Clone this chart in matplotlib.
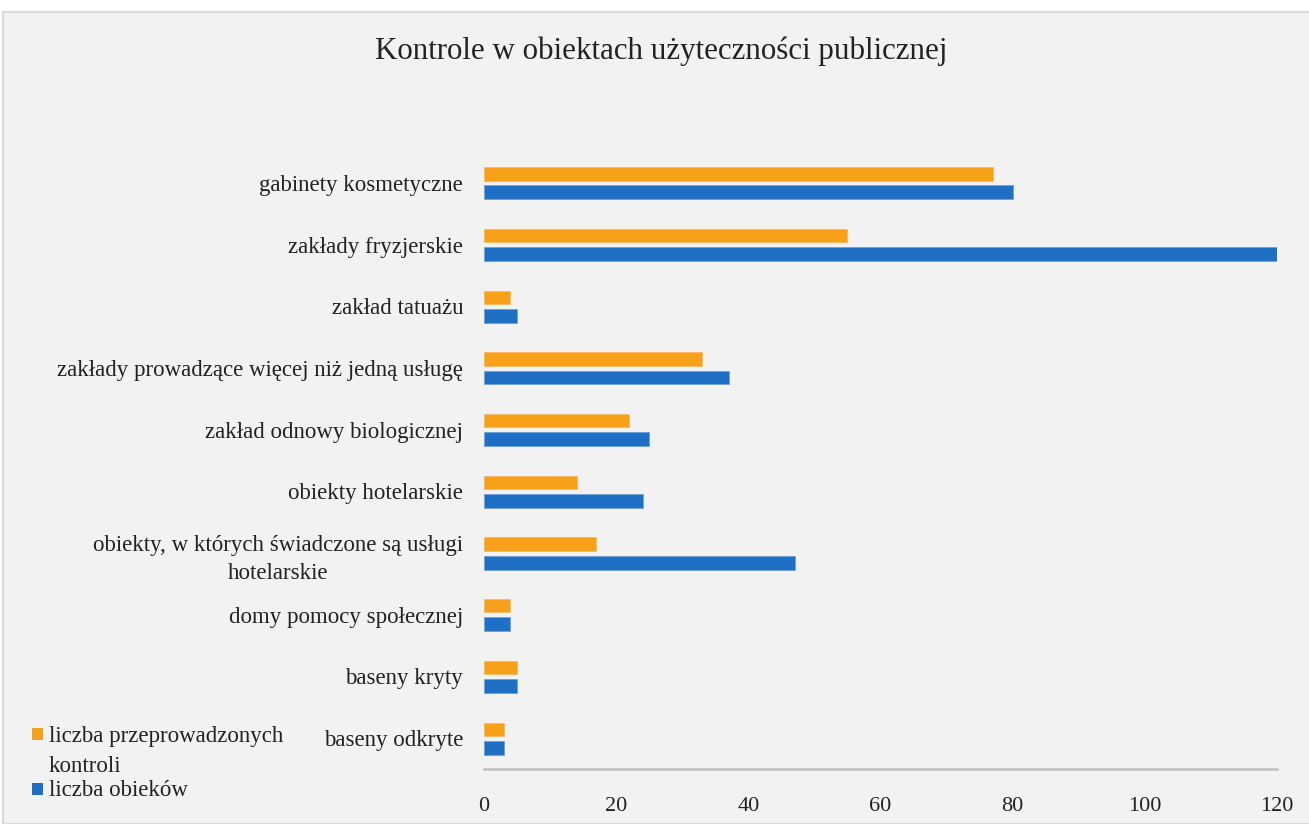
import matplotlib.pyplot as plt
import numpy as np
from matplotlib.patches import Rectangle

# data
categories = [
    "gabinety kosmetyczne",
    "zakłady fryzjerskie",
    "zakład tatuażu",
    "zakłady prowadzące więcej niż jedną usługę",
    "zakład odnowy biologicznej",
    "obiekty hotelarskie",
    "obiekty, w których świadczone są usługi\nhotelarskie",
    "domy pomocy społecznej",
    "baseny kryty",
    "baseny odkryte",
]
kontrole = [77, 55, 4, 33, 22, 14, 17, 4, 5, 3]
obiekty = [80, 120, 5, 37, 25, 24, 47, 4, 5, 3]
xticks = [0, 20, 40, 60, 80, 100, 120]

title = "Kontrole w obiektach użyteczności publicznej"
label_kontrole = "liczba przeprowadzonych\nkontroli"
label_obiekty = "liczba obieków"

orange = "#F7A11A"
blue = "#1F70C4"
bg = "#F2F2F2"

plt.rcParams['font.family'] = ['Liberation Serif', 'DejaVu Serif']

W, H = 1309, 824
fig = plt.figure(figsize=(W / 100, H / 100), dpi=100)
fig.patch.set_facecolor("white")
fig.patches.append(Rectangle((3 / W, 0), 1.0, 1 - 12 / H, transform=fig.transFigure,
                             facecolor=bg, edgecolor="#D9D9D9", lw=1.5, zorder=-10))

ax = fig.add_axes([484 / W, 1 - 769 / H, (1277 - 484) / W, (769 - 152) / H])
ax.set_facecolor(bg)
ax.patch.set_alpha(0)

y = np.arange(len(categories))
ax.barh(y - 0.145, kontrole, height=0.215, color=orange, edgecolor="#F9B860", lw=0.6)
ax.barh(y + 0.155, obiekty, height=0.225, color=blue, edgecolor="#6FA0D8", lw=0.6)

ax.set_xlim(0, 120)
ax.set_ylim(len(categories) - 0.5, -0.5)
ax.set_xticks(xticks)
ax.set_xticklabels([str(t) for t in xticks], fontsize=16, color="#222222")
ax.set_yticks(y)
ax.set_yticklabels(categories, fontsize=16.5, color="#222222",
                   multialignment="center", linespacing=1.45)
ax.tick_params(axis="both", length=0)
ax.tick_params(axis="y", pad=15)
ax.tick_params(axis="x", pad=20)
for s in ["top", "right", "left"]:
    ax.spines[s].set_visible(False)
ax.spines["bottom"].set_color("#BFBFBF")
ax.spines["bottom"].set_linewidth(1.8)

fig.text(661 / W, 1 - 51 / H, title, ha="center", va="center", fontsize=22.3, color="#222222")

# legend, drawn by hand so the square sits beside the first line of the wrapped label
for color, label, sq_top, txt_top in [(orange, label_kontrole, 728, 726),
                                      (blue, label_obiekty, 783, 780)]:
    fig.patches.append(Rectangle((32 / W, 1 - (sq_top + 12) / H), 11 / W, 12 / H,
                                 transform=fig.transFigure, facecolor=color, edgecolor="none"))
    fig.text(49 / W, 1 - txt_top / H, label, ha="left", va="top", fontsize=16.5,
             color="#222222", linespacing=1.55)

fig.savefig("out.png", dpi=100, facecolor=fig.get_facecolor())
